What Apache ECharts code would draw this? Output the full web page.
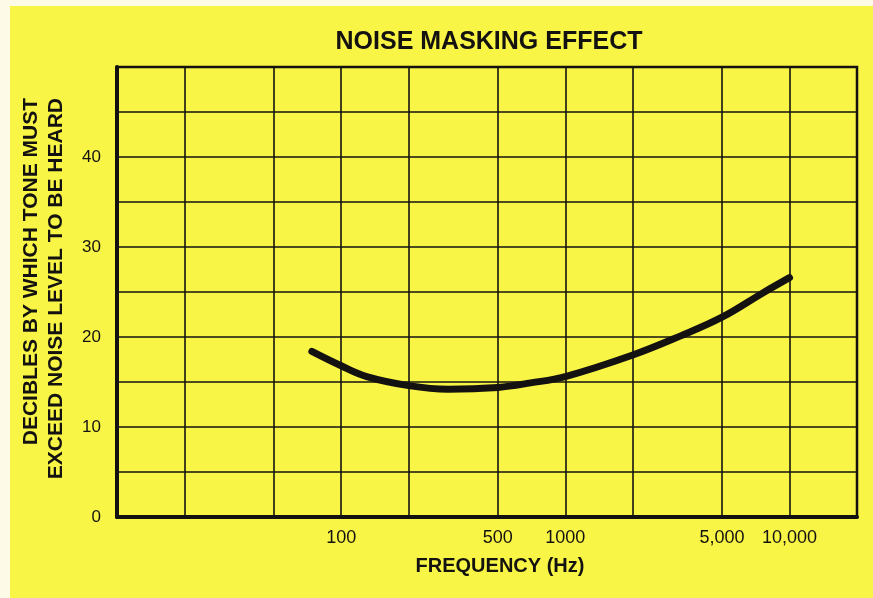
<!DOCTYPE html>
<html>
<head>
<meta charset="utf-8">
<script src="https://cdn.jsdelivr.net/npm/echarts@6/dist/echarts.min.js"></script>
<style>
  html, body { margin: 0; padding: 0; background: #ffffff; }
  #chart { width: 873px; height: 598px; }
</style>
</head>
<body>
<div id="chart"></div>
<script>
// Masking curve: how far a tone must rise above the noise to be heard
const freqHz = [74, 100, 130, 200, 300, 500, 700, 1000, 2000, 3250, 5000, 7600, 10000];
const maskDb = [18.4, 16.8, 15.6, 14.6, 14.2, 14.4, 14.9, 15.6, 18.0, 20.1, 22.2, 24.9, 26.6];

// Grid lines on the 1-2-5 log steps, and the frequencies that get a label
const gridHz = [10, 20, 50, 100, 200, 500, 1000, 2000, 5000, 10000, 20000];
const labelHz = [100, 500, 1000, 5000, 10000];
const labelText = { 100: '100', 500: '500', 1000: '1000', 5000: '5,000', 10000: '10,000' };
const dbLabels = [0, 10, 20, 30, 40];

const ink = '#141210';
const paper = '#f8f546';
const font = 'Liberation Sans, Arial, Helvetica, sans-serif';

const chart = echarts.init(document.getElementById('chart'), null, { renderer: 'canvas' });

chart.setOption({
  backgroundColor: paper,
  animation: false,
  title: {
    text: 'NOISE MASKING EFFECT',
    left: 484,
    top: 25,
    textAlign: 'center',
    textStyle: { fontFamily: font, fontWeight: 'bold', fontSize: 25, color: ink }
  },
  grid: {
    left: 117, right: 16, top: 67, bottom: 81,
    show: true, backgroundColor: 'transparent',
    borderColor: ink, borderWidth: 2.5
  },
  xAxis: {
    type: 'log',
    logBase: 10,
    min: 10,
    max: 20000,
    name: 'FREQUENCY (Hz)',
    nameLocation: 'middle',
    nameGap: 39,
    nameTextStyle: {
      fontFamily: font, fontWeight: 'bold', fontSize: 20, color: ink,
      padding: [0, 0, 0, 26]
    },
    axisLine: { show: true, lineStyle: { color: ink, width: 4 } },
    axisTick: { show: false, customValues: gridHz },
    axisLabel: {
      customValues: labelHz,
      margin: 12,
      fontFamily: font, fontSize: 18, color: ink,
      formatter: v => labelText[Math.round(v)] || ''
    },
    splitLine: { show: true, lineStyle: { color: ink, width: 1.6 } }
  },
  yAxis: {
    type: 'value',
    min: 0,
    max: 50,
    interval: 5,
    axisLine: { show: true, lineStyle: { color: ink, width: 4 } },
    axisTick: { show: false },
    axisLabel: {
      margin: 16,
      padding: [4, 0, 0, 0],
      fontFamily: font, fontSize: 17, color: ink,
      formatter: v => (dbLabels.indexOf(v) >= 0 ? String(v) : '')
    },
    splitLine: { show: true, lineStyle: { color: ink, width: 1.6 } }
  },
  graphic: [
    // unprinted paper margin along the top and left edges
    { type: 'rect', left: 0, top: 0, shape: { width: 873, height: 6 }, style: { fill: '#fdfbe8' }, z: 100 },
    { type: 'rect', left: 0, top: 0, shape: { width: 10, height: 598 }, style: { fill: '#fdfbe8' }, z: 100 },
    // two-line vertical axis title, both lines ending at the same height
    {
      type: 'text', x: 31, y: 98, rotation: Math.PI / 2, z: 50,
      style: {
        text: 'DECIBLES BY WHICH TONE MUST',
        fontFamily: font, fontWeight: 'bold', fontSize: 21, fill: ink,
        align: 'right', verticalAlign: 'middle'
      }
    },
    {
      type: 'text', x: 56, y: 98, rotation: Math.PI / 2, z: 50,
      style: {
        text: 'EXCEED NOISE LEVEL TO BE HEARD',
        fontFamily: font, fontWeight: 'bold', fontSize: 21, fill: ink,
        align: 'right', verticalAlign: 'middle'
      }
    }
  ],
  series: [{
    type: 'line',
    data: freqHz.map((f, i) => [f, maskDb[i]]),
    smooth: 0.4,
    showSymbol: false,
    lineStyle: { color: ink, width: 7, cap: 'round', join: 'round' },
    z: 10
  }]
});
</script>
</body>
</html>
